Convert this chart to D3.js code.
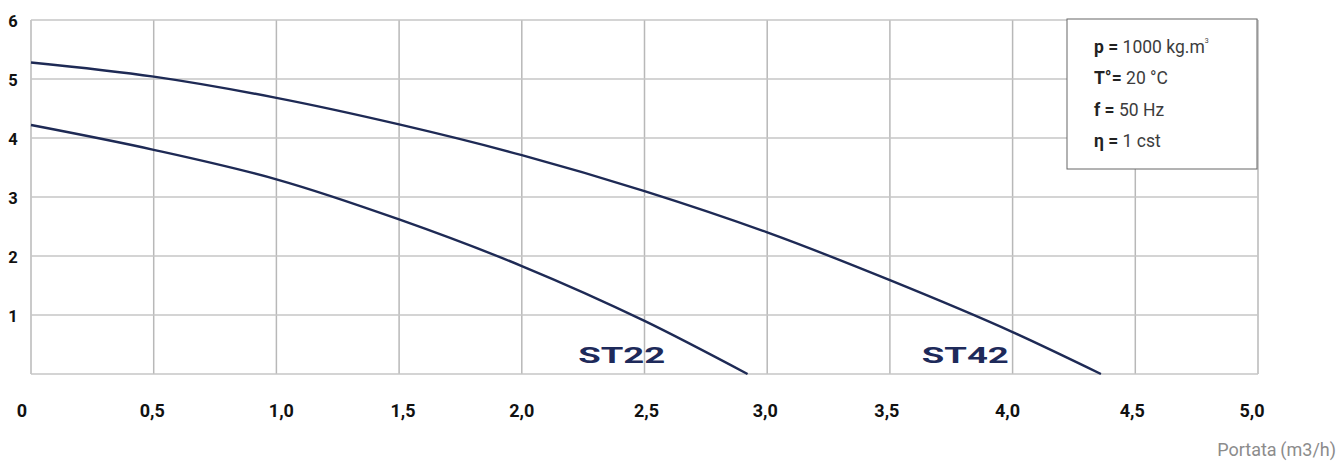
<!DOCTYPE html>
<html lang="en">
<head>
<meta charset="UTF-8">
<title>Curve ST22 / ST42</title>
<style>
    body { margin: 0; background: #fff; }
    text { font-family: Roboto, "Noto Sans", sans-serif; }
</style>
</head>
<body>
<div id="my_dataviz"></div>
<script src="https://d3js.org/d3.v7.min.js"></script>
<script>
    // data (portata m3/h, prevalenza m)
    var st22Flow = [0, 0.5, 1.0, 1.5, 2.0, 2.5, 2.92];
    var st22Head = [4.22, 3.80, 3.30, 2.62, 1.83, 0.90, 0];
    var st42Flow = [0, 0.5, 1.0, 1.5, 2.0, 2.5, 3.0, 3.5, 4.0, 4.36];
    var st42Head = [5.28, 5.04, 4.68, 4.23, 3.71, 3.10, 2.40, 1.59, 0.71, 0];
    var xTicks = [0, 0.5, 1.0, 1.5, 2.0, 2.5, 3.0, 3.5, 4.0, 4.5, 5.0];
    var xTickLabels = ["0", "0,5", "1,0", "1,5", "2,0", "2,5", "3,0", "3,5", "4,0", "4,5", "5,0"];
    var yTicks = [1, 2, 3, 4, 5, 6];
    var curveNames = ["ST22", "ST42"];
    var curveLabelAt = [[2.23, 0.19], [3.63, 0.19]];
    var legendKeys = ["p =", "T°=", "f =", "η ="];
    var legendValues = ["1000 kg.m", "20 °C", "50 Hz", "1 cst"];

    const W = 1341, H = 462;
    const margin = { top: 20, right: 83, bottom: 88, left: 31 },
        width = W - margin.left - margin.right,
        height = H - margin.top - margin.bottom;

    const svg = d3.select("#my_dataviz").append("svg")
        .attr("width", W)
        .attr("height", H);
    const g = svg.append("g")
        .attr("transform", `translate(${margin.left},${margin.top})`);

    var x = d3.scaleLinear().domain([0, 5]).range([0, width]);
    var y = d3.scaleLinear().domain([0, 6]).range([height, 0]);

    // grid
    g.append("g").selectAll("line").data(xTicks).join("line")
        .attr("x1", d => x(d)).attr("x2", d => x(d))
        .attr("y1", 0).attr("y2", height)
        .attr("stroke", "#b8b8b8").attr("stroke-width", 1.5);
    g.append("g").selectAll("line").data([0].concat(yTicks)).join("line")
        .attr("x1", 0).attr("x2", width)
        .attr("y1", d => y(d)).attr("y2", d => y(d))
        .attr("stroke", "#c6c6c6").attr("stroke-width", 1.5);

    // tick labels (the original ones sit a bit off the grid lines)
    var labelShift = [-9, -1.5, 5, 4, 0, 2, -2, -3, -5, -3, -6];
    g.append("g").selectAll("text").data(xTicks).join("text")
        .attr("x", d => x(d))
        .attr("dx", (d, i) => labelShift[i])
        .attr("y", height + 43)
        .attr("text-anchor", "middle")
        .attr("font-size", 18).attr("font-weight", "bold").attr("fill", "#111")
        .text((d, i) => xTickLabels[i]);
    g.append("g").selectAll("text").data(yTicks).join("text")
        .attr("x", -18)
        .attr("y", d => y(d) + 6.5)
        .attr("text-anchor", "middle")
        .attr("font-size", 16.5).attr("font-weight", "bold").attr("fill", "#111")
        .text(d => d);

    // curves
    var series = [
        d3.zip(st22Flow, st22Head),
        d3.zip(st42Flow, st42Head)
    ];
    var line = d3.line()
        .x(d => x(d[0]))
        .y(d => y(d[1]))
        .curve(d3.curveMonotoneX);
    g.selectAll(".curve").data(series).join("path")
        .attr("class", "curve")
        .attr("d", line)
        .attr("fill", "none")
        .attr("stroke", "#1e2a55")
        .attr("stroke-width", 2.4);

    g.selectAll(".curveLabel").data(curveNames).join("text")
        .attr("class", "curveLabel")
        .attr("x", (d, i) => x(curveLabelAt[i][0]))
        .attr("y", (d, i) => y(curveLabelAt[i][1]))
        .attr("font-family", "DejaVu Sans")
        .attr("font-weight", "bold")
        .attr("font-size", 22)
        .attr("textLength", 87)
        .attr("lengthAdjust", "spacingAndGlyphs")
        .attr("fill", "#1e2a5a")
        .text(d => d);

    // legend box
    const lg = svg.append("g").attr("transform", "translate(1067,19)");
    lg.append("rect")
        .attr("width", 190).attr("height", 150)
        .attr("fill", "#fff").attr("stroke", "#666").attr("stroke-width", 1);
    legendKeys.forEach(function (k, i) {
        var t = lg.append("text")
            .attr("x", 27).attr("y", 34 + i * 31.3)
            .attr("font-size", 17.5).attr("fill", "#3c3c3c");
        t.append("tspan").attr("font-weight", "bold").attr("fill", "#222").text(k);
        t.append("tspan").text(" " + legendValues[i]);
        if (i == 0) {
            t.append("tspan").attr("font-size", 7).attr("dy", -10).text("3");
        }
    });

    svg.append("text")
        .attr("x", 1336).attr("y", 456)
        .attr("text-anchor", "end")
        .attr("font-size", 18).attr("fill", "#8c8c8c")
        .text("Portata\u2009(m3/h)");
</script>
</body>
</html>
